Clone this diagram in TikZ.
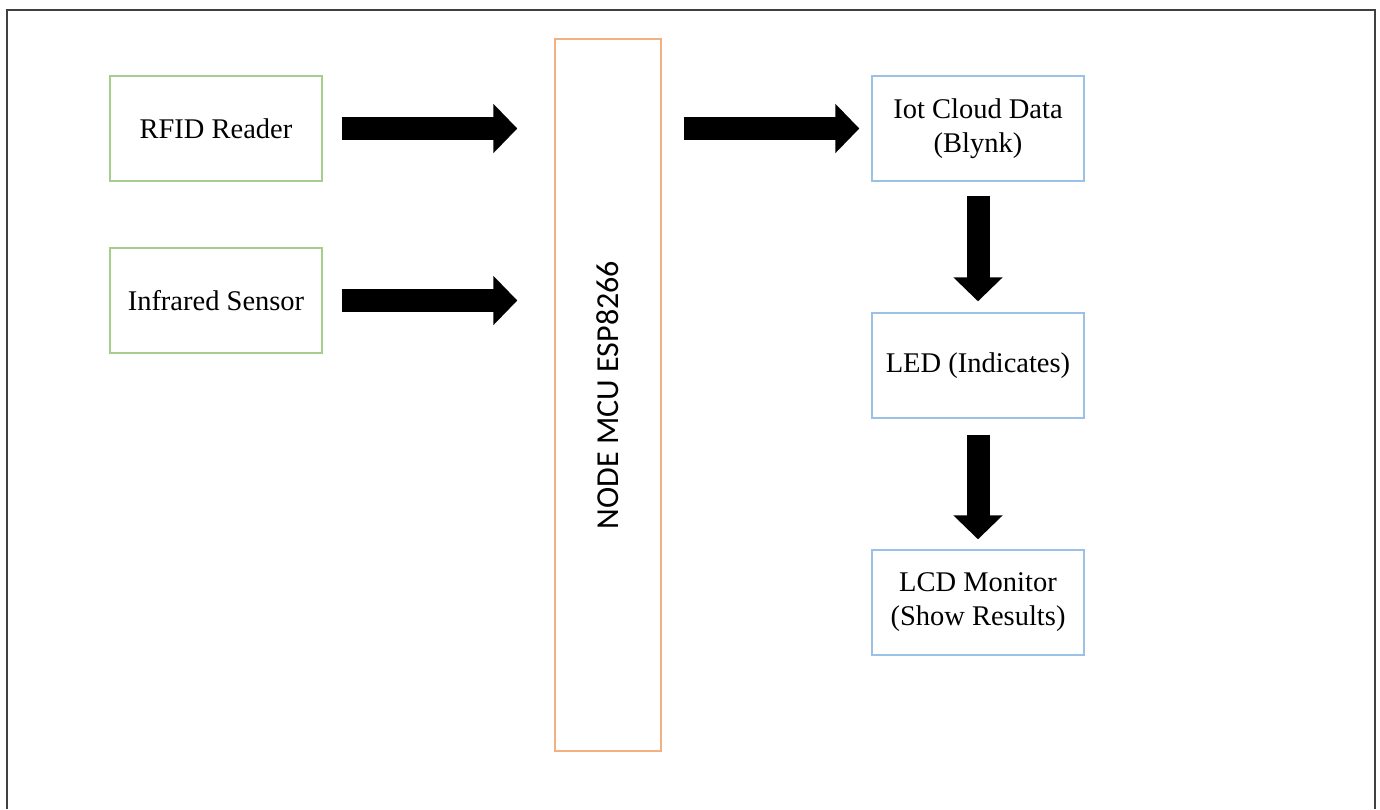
\documentclass[tikz,border=0pt]{standalone}
\usepackage{fontspec}
\setmainfont{Liberation Serif}
\newfontfamily\calibri{Carlito}
\usetikzlibrary{arrows.meta}

\definecolor{boxgreen}{RGB}{165,205,140}
\definecolor{boxorange}{RGB}{244,175,130}
\definecolor{boxblue}{RGB}{155,194,230}

\begin{document}
\begin{tikzpicture}[x=1pt,y=-1pt,
  block/.style={draw, line width=1.4pt, minimum width=212pt, minimum height=105pt,
    inner sep=0pt, align=center, font=\fontsize{28.5}{34}\selectfont},
  inblock/.style={block, draw=boxgreen},
  outblock/.style={block, draw=boxblue},
  fatarrow/.style={line width=23pt, -{Triangle[width=48pt,length=24pt]}}]

% Fix the page
\useasboundingbox (0,0) rectangle (1380,809);

% Draw the outer frame
\draw[line width=2pt, black!75] (7,809) -- (7,10) -- (1375,10) -- (1375,809);

% Draw the input blocks
\node[inblock] (rfid) at (216,128.5) {RFID Reader};
\node[inblock] (ir) at (216,300.5) {Infrared Sensor};

% Draw the controller
\node[draw=boxorange, line width=1.4pt, minimum width=106pt, minimum height=712pt,
  inner sep=0pt] (mcu) at (608,395)
  {\rotatebox{90}{\calibri\fontsize{32}{36}\selectfont NODE MCU ESP8266}};

% Draw the output blocks
\node[outblock] (iot) at (978,128.5) {Iot Cloud Data\\(Blynk)};
\node[outblock] (led) at (978,365.5) {LED (Indicates)};
\node[outblock] (lcd) at (978,602.5) {LCD Monitor\\(Show Results)};

% Draw the block arrows
\draw[fatarrow, shorten <=19pt, shorten >=37pt] (rfid.east) -- (rfid.east -| mcu.west);
\draw[fatarrow, shorten <=19pt, shorten >=37pt] (ir.east) -- (ir.east -| mcu.west);
\draw[fatarrow, shorten <=22pt, shorten >=12pt] (iot.west -| mcu.east) -- (iot.west);
\draw[fatarrow, shorten <=14pt, shorten >=11pt] (iot.south) -- (led.north);
\draw[fatarrow, shorten <=16pt, shorten >=10pt] (led.south) -- (lcd.north);

\end{tikzpicture}
\end{document}
